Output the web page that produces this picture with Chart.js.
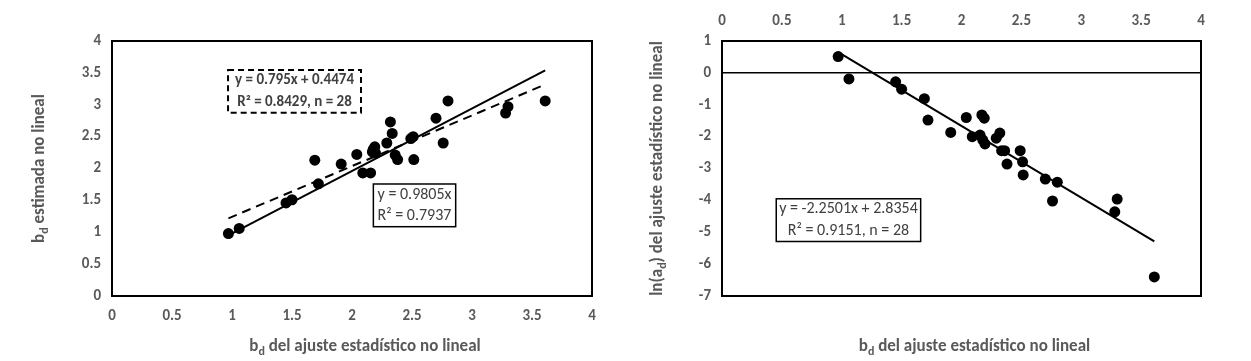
<!DOCTYPE html>
<html>
<head>
<meta charset="utf-8">
<script src="https://cdn.jsdelivr.net/npm/chart.js@4.4.1/dist/chart.umd.min.js"></script>
<style>
  body { margin: 0; background: #fff; width: 1251px; height: 361px; overflow: hidden; position: relative; }
  canvas { position: absolute; top: 0; }
  #izq { left: 0; }
  #der { left: 620px; }
</style>
</head>
<body>
<canvas id="izq" width="620" height="361"></canvas>
<canvas id="der" width="631" height="361"></canvas>
<script>
// b_d del ajuste estadístico no lineal (eje x de ambas gráficas)
const bdAjuste = [0.97, 1.06, 1.45, 1.50, 1.69, 1.72, 1.91, 2.04, 2.09, 2.155, 2.17, 2.177, 2.19, 2.196,
  2.29, 2.32, 2.335, 2.36, 2.38, 2.49, 2.51, 2.515, 2.70, 2.76, 2.80, 3.28, 3.30, 3.61];
// b_d estimada no lineal
const bdEstimada = [0.98, 1.06, 1.46, 1.51, 2.13, 1.76, 2.07, 2.22, 1.93, 1.93, 2.26, 2.30, 2.34, 2.24,
  2.40, 2.73, 2.55, 2.21, 2.14, 2.47, 2.50, 2.14, 2.79, 2.40, 3.06, 2.87, 2.97, 3.06];
// ln(a_d) del ajuste estadístico no lineal
const lnAd = [0.51, -0.19, -0.28, -0.51, -0.81, -1.48, -1.87, -1.40, -2.00, -1.95, -1.32, -2.10, -1.42, -2.23,
  -2.05, -1.89, -2.44, -2.44, -2.86, -2.44, -2.79, -3.20, -3.33, -4.02, -3.43, -4.36, -3.96, -6.40];

// rectas de ajuste: [pendiente, ordenada]
const ajusteOrigen = [0.9805, 0];
const ajusteLineal = [0.795, 0.4474];
const ajusteLn = [-2.2501, 2.8354];
const rangoAjuste = [0.97, 3.61];

const gris = '#595959';
const fuente = 'Carlito, Lato, sans-serif';

function recta(coef) {
  return rangoAjuste.map(x => ({ x: x, y: coef[0] * x + coef[1] }));
}
function puntos(ys) {
  return bdAjuste.map((x, i) => ({ x: x, y: ys[i] }));
}

function textoSub(ctx, partes, x, y, size) {
  const normal = `bold ${size}px ${fuente}`;
  const sub = `bold ${Math.round(size * 0.72)}px ${fuente}`;
  let total = 0;
  partes.forEach(p => { ctx.font = p[1] ? sub : normal; total += ctx.measureText(p[0]).width; });
  let cx = x - total / 2;
  ctx.textAlign = 'left';
  ctx.textBaseline = 'middle';
  partes.forEach(p => {
    ctx.font = p[1] ? sub : normal;
    ctx.fillText(p[0], cx, y + (p[1] ? size * 0.3 : 0));
    cx += ctx.measureText(p[0]).width;
  });
}

function pluginMarco(titulos, cajas) {
  return {
    id: 'marco',
    afterDatasetsDraw(chart) {
      const { ctx, chartArea: a, scales: { x, y } } = chart;
      ctx.save();
      // cajas de ecuaciones
      cajas.forEach(c => {
        const l = x.getPixelForValue(c.x0), r = x.getPixelForValue(c.x1);
        const t = y.getPixelForValue(c.y0), b = y.getPixelForValue(c.y1);
        ctx.fillStyle = '#fff';
        ctx.fillRect(l, t, r - l, b - t);
        ctx.strokeStyle = '#000';
        ctx.lineWidth = c.dash ? 2 : 1.5;
        ctx.setLineDash(c.dash ? [6, 4] : []);
        ctx.strokeRect(l, t, r - l, b - t);
        ctx.setLineDash([]);
        ctx.fillStyle = '#404040';
        ctx.font = c.font;
        ctx.textAlign = 'center';
        ctx.textBaseline = 'middle';
        const h = (b - t) / c.lineas.length;
        c.lineas.forEach((s, i) => ctx.fillText(s, (l + r) / 2, t + h * (i + 0.5)));
      });
      // marco del área de trazado
      ctx.strokeStyle = '#000';
      ctx.lineWidth = 2;
      ctx.strokeRect(a.left, a.top, a.right - a.left, a.bottom - a.top);
      // títulos de ejes
      ctx.fillStyle = gris;
      textoSub(ctx, titulos.x, (a.left + a.right) / 2 + 13, a.bottom + 51, 17);
      ctx.translate(titulos.yPos, (a.top + a.bottom) / 2);
      ctx.rotate(-Math.PI / 2);
      textoSub(ctx, titulos.y, 0, 0, 17);
      ctx.restore();
    }
  };
}

function escala(min, max, paso, extra) {
  return Object.assign({
    type: 'linear', min: min, max: max,
    ticks: {
      stepSize: paso, padding: 11, color: gris,
      font: { family: fuente, size: 15, weight: 'bold' },
      callback: v => String(v)
    },
    grid: { display: false, drawTicks: false },
    border: { display: false },
    title: { display: false }
  }, extra);
}

const estiloPuntos = { pointRadius: 5.5, pointBackgroundColor: '#000', pointBorderWidth: 0, showLine: false };
const estiloRecta = { showLine: true, pointRadius: 0, borderColor: '#000', borderWidth: 2, fill: false };

const tituloX = [['b', false], ['d', true], [' del ajuste estadístico no lineal', false]];

new Chart(document.getElementById('izq'), {
  type: 'scatter',
  data: {
    datasets: [
      Object.assign({ label: 'b_d', data: puntos(bdEstimada) }, estiloPuntos),
      Object.assign({ label: 'y = 0.9805x', data: recta(ajusteOrigen) }, estiloRecta),
      Object.assign({ label: 'y = 0.795x + 0.4474', data: recta(ajusteLineal), borderDash: [9, 6], borderWidth: 2.5 }, estiloRecta)
    ]
  },
  options: {
    responsive: false,
    animation: false,
    layout: { padding: { top: 41, right: 28, left: 0, bottom: 0 } },
    plugins: { legend: { display: false }, tooltip: { enabled: false } },
    scales: {
      x: escala(0, 4, 0.5, { afterFit: s => { s.height = 65; } }),
      y: escala(0, 4, 0.5, { afterFit: s => { s.width = 112; } })
    }
  },
  plugins: [pluginMarco(
    { x: tituloX, y: [['b', false], ['d', true], [' estimada no lineal', false]], yPos: 40 },
    [
      { x0: 0.967, y0: 3.545, x1: 2.075, y1: 2.875, dash: true, font: `bold 15px ${fuente}`,
        lineas: ['y = 0.795x + 0.4474', 'R² = 0.8429, n = 28'] },
      { x0: 2.178, y0: 1.757, x1: 2.864, y1: 1.087, dash: false, font: `16px ${fuente}`,
        lineas: ['y = 0.9805x', 'R² = 0.7937'] }
    ]
  )]
});

new Chart(document.getElementById('der'), {
  type: 'scatter',
  data: {
    datasets: [
      Object.assign({ label: 'ln(a_d)', data: puntos(lnAd) }, estiloPuntos),
      Object.assign({ label: 'y = -2.2501x + 2.8354', data: recta(ajusteLn) }, estiloRecta)
    ]
  },
  options: {
    responsive: false,
    animation: false,
    layout: { padding: { top: 0, right: 50, left: 0, bottom: 65 } },
    plugins: { legend: { display: false }, tooltip: { enabled: false } },
    scales: {
      x: escala(0, 4, 0.5, { position: 'top', afterFit: s => { s.height = 41; } }),
      y: escala(-7, 1, 1, {
        afterFit: s => { s.width = 102; },
        grid: {
          display: true, drawTicks: false, lineWidth: 1.5,
          color: c => (c.tick && c.tick.value === 0 ? '#000' : 'rgba(0,0,0,0)')
        }
      })
    }
  },
  plugins: [pluginMarco(
    { x: tituloX, y: [['ln(a', false], ['d', true], [') del ajuste estadístico no lineal', false]], yPos: 38 },
    [
      { x0: 0.453, y0: -3.95, x1: 1.659, y1: -5.29, dash: false, font: `16px ${fuente}`,
        lineas: ['y = -2.2501x + 2.8354', 'R² = 0.9151, n = 28'] }
    ]
  )]
});
</script>
</body>
</html>
